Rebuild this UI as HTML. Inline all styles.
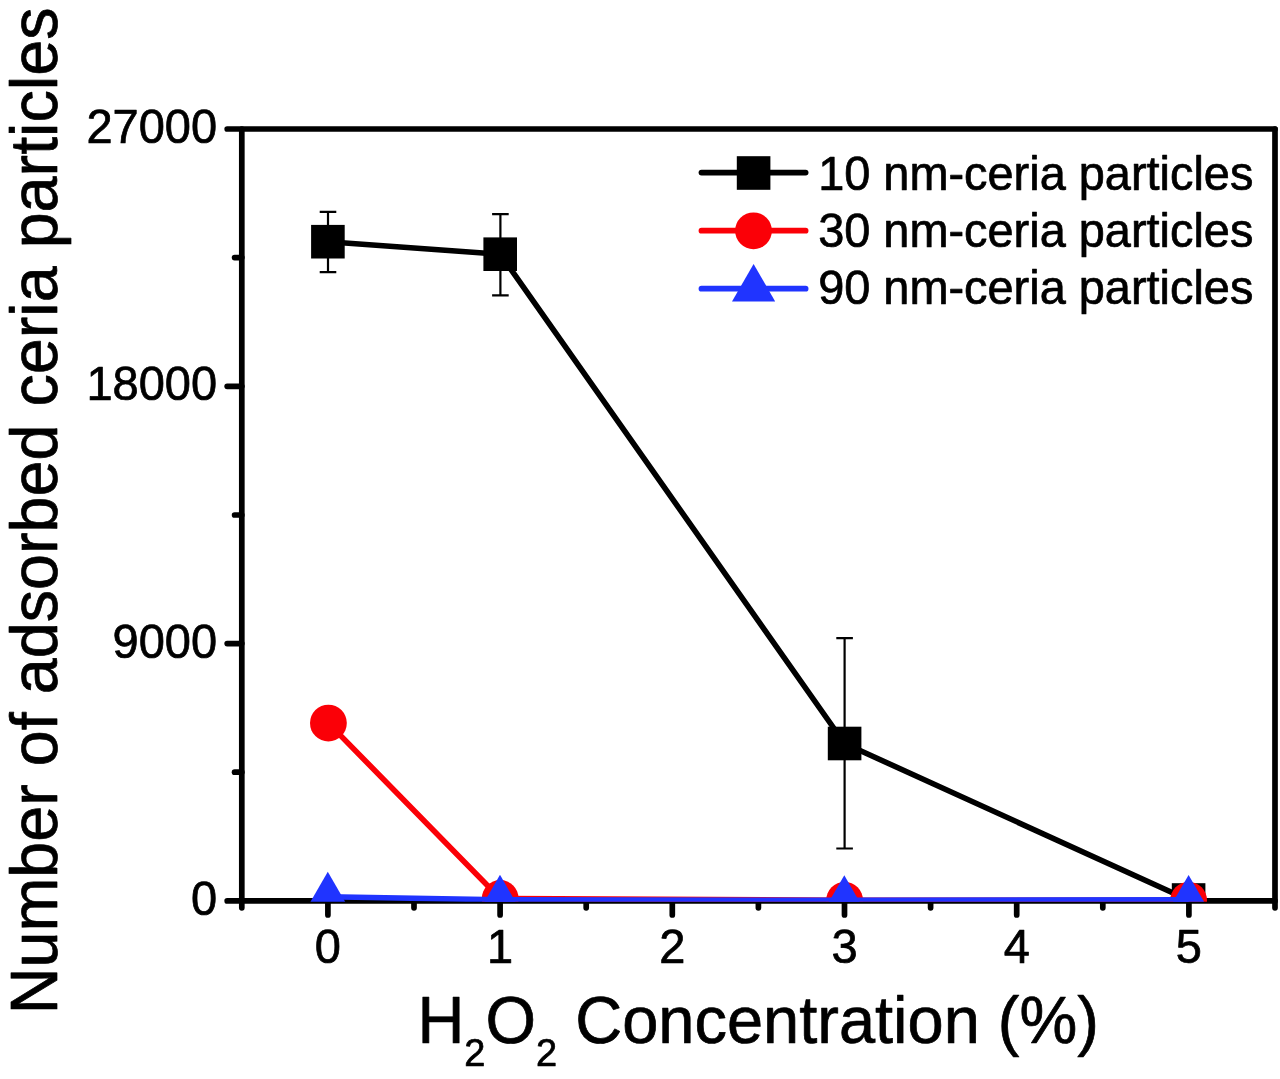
<!DOCTYPE html>
<html lang="en"><head><meta charset="utf-8"><title>Number of adsorbed ceria particles vs H2O2 concentration</title>
<style>html,body{margin:0;padding:0;background:#fff}svg{display:block;filter:blur(0.55px)}text{font-family:'Liberation Sans', Arial, Helvetica, sans-serif;fill:#000;stroke:#000;stroke-width:0.7px;stroke-linejoin:round}</style>
</head><body>
<svg width="1280" height="1079" viewBox="0 0 1280 1079">
<rect x="0" y="0" width="1280" height="1079" fill="#fff"/>
<defs><clipPath id="plot"><rect x="230" y="120" width="1060" height="781.7"/></clipPath></defs>
<g stroke="#000" stroke-width="5.7" fill="none" stroke-linecap="round">
<line x1="241.8" y1="129.0" x2="241.8" y2="907.8"/>
<line x1="1275.0" y1="129.0" x2="1275.0" y2="907.8"/>
<line x1="227.2" y1="129.0" x2="1275.0" y2="129.0"/>
<line x1="227.2" y1="900.9" x2="1275.0" y2="900.9"/>
<line x1="227.2" y1="643.6" x2="241.8" y2="643.6"/>
<line x1="227.2" y1="386.3" x2="241.8" y2="386.3"/>
<line x1="234.6" y1="772.2" x2="241.8" y2="772.2"/>
<line x1="234.6" y1="515.0" x2="241.8" y2="515.0"/>
<line x1="234.6" y1="257.6" x2="241.8" y2="257.6"/>
<line x1="327.9" y1="900.9" x2="327.9" y2="914.9"/>
<line x1="500.1" y1="900.9" x2="500.1" y2="914.9"/>
<line x1="672.3" y1="900.9" x2="672.3" y2="914.9"/>
<line x1="844.5" y1="900.9" x2="844.5" y2="914.9"/>
<line x1="1016.7" y1="900.9" x2="1016.7" y2="914.9"/>
<line x1="1188.9" y1="900.9" x2="1188.9" y2="914.9"/>
<line x1="414.0" y1="900.9" x2="414.0" y2="907.8"/>
<line x1="586.2" y1="900.9" x2="586.2" y2="907.8"/>
<line x1="758.4" y1="900.9" x2="758.4" y2="907.8"/>
<line x1="930.6" y1="900.9" x2="930.6" y2="907.8"/>
<line x1="1102.8" y1="900.9" x2="1102.8" y2="907.8"/>
</g>
<g clip-path="url(#plot)">
<g stroke="#000" stroke-width="2.2" fill="none">
<path d="M328.0 211.9V272.1M319.7 211.9h16.6M319.7 272.1h16.6"/>
<path d="M500.4 214.1V295.3M492.1 214.1h16.6M492.1 295.3h16.6"/>
<path d="M844.6 638.1V848.5M836.3 638.1h16.6M836.3 848.5h16.6"/>
</g>
<polyline fill="none" stroke="#000" stroke-width="5.6" stroke-linejoin="round" points="327.9,241.7 500.2,254.2 844.6,743.5 1188.6,900.0"/>
<rect x="311.1" y="224.9" width="33.6" height="33.6" fill="#000"/>
<rect x="483.4" y="237.4" width="33.6" height="33.6" fill="#000"/>
<rect x="827.8" y="726.7" width="33.6" height="33.6" fill="#000"/>
<rect x="1171.8" y="883.2" width="33.6" height="33.6" fill="#000"/>
<polyline fill="none" stroke="#fb0007" stroke-width="5.6" stroke-linejoin="round" points="328.4,723.1 500.2,898.5 844.6,900.3 1188.6,900.3"/>
<circle cx="328.4" cy="723.1" r="18.4" fill="#fb0007"/>
<circle cx="500.2" cy="898.5" r="18.4" fill="#fb0007"/>
<circle cx="844.6" cy="900.3" r="18.4" fill="#fb0007"/>
<circle cx="1188.6" cy="900.3" r="18.4" fill="#fb0007"/>
<polyline fill="none" stroke="#2034ff" stroke-width="5.6" stroke-linejoin="round" points="327.8,896.7 500.0,899.8 844.3,900.3 1188.6,899.9"/>
<polygon points="327.8,871.7 306.2,909.2 349.4,909.2" fill="#2034ff"/>
<polygon points="500.0,874.8 478.4,912.3 521.6,912.3" fill="#2034ff"/>
<polygon points="844.3,875.3 822.6,912.8 865.9,912.8" fill="#2034ff"/>
<polygon points="1188.6,874.9 1166.9,912.4 1210.2,912.4" fill="#2034ff"/>
</g>
<g stroke-width="5.8" stroke-linecap="round" fill="none">
<line x1="701.5" y1="172.6" x2="805.6" y2="172.6" stroke="#000"/>
<line x1="701.5" y1="230.7" x2="805.6" y2="230.7" stroke="#fb0007"/>
<line x1="701.5" y1="288.7" x2="805.6" y2="288.7" stroke="#2034ff"/>
</g>
<rect x="736.8" y="156.2" width="33.6" height="33.6" fill="#000"/>
<circle cx="753.5" cy="230.8" r="18.4" fill="#fb0007"/>
<polygon points="753.6,263.9 732.0,301.4 775.2,301.4" fill="#2034ff"/>
<g font-size="46.9">
<text transform="translate(818.2,189.7) scale(1,1.04)">10 nm-ceria particles</text>
<text transform="translate(818.2,246.8) scale(1,1.04)">30 nm-ceria particles</text>
<text transform="translate(818.2,304.3) scale(1,1.04)">90 nm-ceria particles</text>
</g>
<g font-size="47" text-anchor="end">
<text transform="translate(217.1,914.9) scale(1,1.04)">0</text>
<text transform="translate(217.1,657.6) scale(1,1.04)">9000</text>
<text transform="translate(217.1,400.3) scale(1,1.04)">18000</text>
<text transform="translate(217.1,143.0) scale(1,1.04)">27000</text>
</g>
<g font-size="47" text-anchor="middle">
<text transform="translate(327.9,962.6) scale(1,1.04)">0</text>
<text transform="translate(500.1,962.6) scale(1,1.04)">1</text>
<text transform="translate(672.3,962.6) scale(1,1.04)">2</text>
<text transform="translate(844.5,962.6) scale(1,1.04)">3</text>
<text transform="translate(1016.7,962.6) scale(1,1.04)">4</text>
<text transform="translate(1188.9,962.6) scale(1,1.04)">5</text>
</g>
<text transform="translate(417.4,1042.6) scale(1,1.025)" font-size="65">H<tspan font-size="38" dy="22.5">2</tspan><tspan dy="-22.5">O</tspan><tspan font-size="38" dy="22.5">2</tspan><tspan dy="-22.5"> Concentration (%)</tspan></text>
<text transform="translate(57,1014.2) rotate(-90) scale(1,1.025)" font-size="64.7">Number of adsorbed ceria particles</text>
</svg></body></html>
